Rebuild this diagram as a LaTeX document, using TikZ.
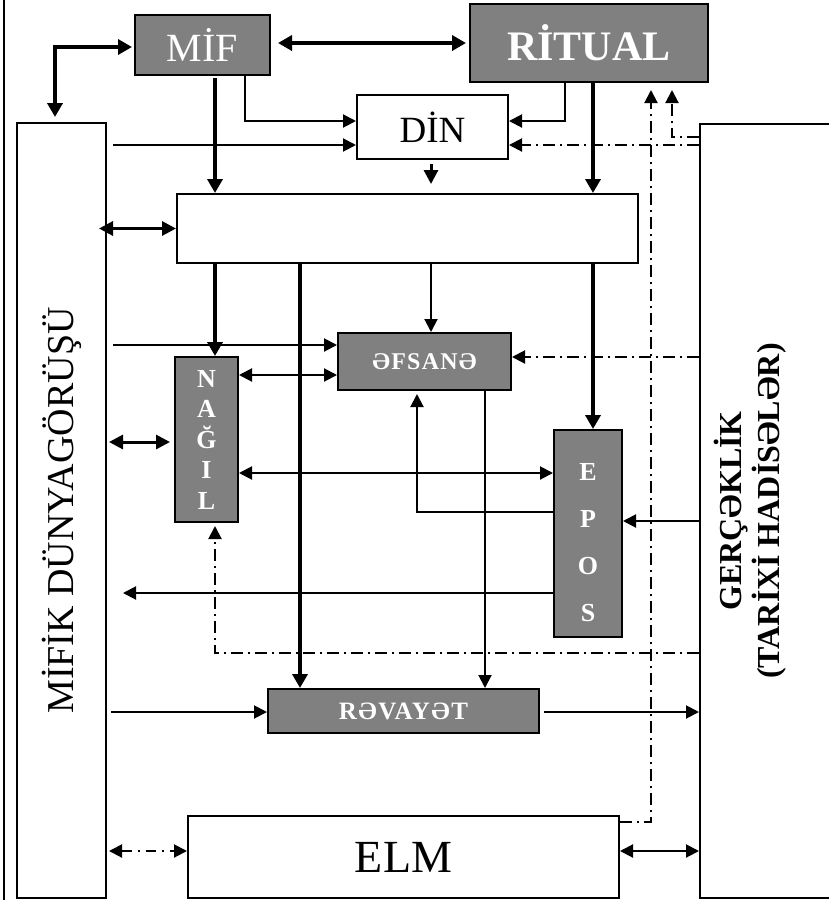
\documentclass[tikz,border=0pt]{standalone}
\usepackage{fontspec}
\usepackage{graphicx}
\setmainfont{Liberation Serif}
\usetikzlibrary{arrows.meta}
\begin{document}
\begin{tikzpicture}[x=1pt, y=-1pt,
        blok/.style={draw, line width=2pt, inner sep=0pt, fill=white},
        boz/.style={blok, fill=gray, text=white},
        fat/.style={line width=4pt, >={Triangle[length=14pt,width=15pt]}},
        orta/.style={line width=3pt, >={Triangle[length=14pt,width=14pt]}},
        ince/.style={line width=2pt, >={Triangle[length=13pt,width=13pt]}},
        xetli/.style={ince, dash pattern=on 12pt off 5pt on 2pt off 5pt}]
        \useasboundingbox (0,0) rectangle (828,900);
        \draw[line width=1.2pt] (4,0) -- (4,900);
        \coordinate (lA) at (55,0);
        \coordinate (lB) at (215,0);
        \coordinate (lC) at (245,0);
        \coordinate (lD) at (565,0);
        \coordinate (lE) at (593,0);
        \coordinate (lF) at (431,0);
        \coordinate (lG) at (300,0);
        \coordinate (lH) at (651,0);
        \coordinate (lI) at (672,0);
        \coordinate (lJ) at (417,0);
        \coordinate (lK) at (485,0);
        \coordinate (r0) at (0,43);
        \coordinate (r1) at (0,121);
        \coordinate (r2) at (0,145);
        \coordinate (r4) at (0,345);
        \coordinate (r5) at (0,375);
        \coordinate (r6) at (0,357);
        \coordinate (r7) at (0,442);
        \coordinate (r8) at (0,473);
        \coordinate (r9) at (0,512);
        \coordinate (r10) at (0,521);
        \coordinate (r11) at (0,593);
        \coordinate (r12) at (0,653);
        \coordinate (r13) at (0,712);
        \coordinate (r14) at (0,851);
        \coordinate (r15) at (0,822);
        \coordinate (r16) at (0,137);
        \node[boz, minimum width=135pt, minimum height=60pt, font=\fontsize{40}{40}\selectfont] (mif) at (202.5,45) {MİF};
        \node[boz, minimum width=238pt, minimum height=78pt, font=\bfseries\fontsize{42}{42}\selectfont] (ritual) at (589,43) {RİTUAL};
        \node[blok, minimum width=151pt, minimum height=64pt, font=\fontsize{37}{37}\selectfont] (din) at (432.5,127) {DİN};
        \node[blok, minimum width=461pt, minimum height=69pt] (big) at (407.5,228.5) {};
        \node[blok, minimum width=89pt, minimum height=775pt, font=\fontsize{38}{38}\selectfont] (mifik) at (61.5,510.5) {\rotatebox{90}{MİFİK DÜNYAGÖRÜŞÜ}};
        \node[blok, minimum width=140pt, minimum height=774pt,
            label={[xshift=-18pt, font=\bfseries\fontsize{32}{35}\selectfont]center:\rotatebox{90}{\begin{tabular}{@{}c@{}}GERÇƏKLİK\\(TARİXİ HADİSƏLƏR)\end{tabular}}}] (real) at (770,511) {};
        \node[boz, minimum width=173pt, minimum height=57pt, font=\bfseries\fontsize{24}{24}\selectfont\addfontfeature{LetterSpace=5}] (efsane) at (424.5,361.5) {ƏFSANƏ};
        \node[boz, minimum width=63pt, minimum height=165pt, align=center, font=\bfseries\fontsize{26}{30.5}\selectfont] (nagil) at (206.5,439.5) {N\\A\\Ğ\\I\\L};
        \node[boz, minimum width=68pt, minimum height=207pt,
            label={[yshift=-9pt, align=center, text=white, font=\bfseries\fontsize{26}{47}\selectfont]center:E\\P\\O\\S}] (epos) at (588,533.5) {};
        \node[boz, minimum width=271pt, minimum height=44pt, font=\bfseries\fontsize{25}{25}\selectfont\addfontfeature{LetterSpace=6}] (revayet) at (403.5,711) {RƏVAYƏT};
        \node[blok, minimum width=431pt, minimum height=82pt, font=\fontsize{46}{46}\selectfont] (elm) at (403.5,857) {ELM};
        \draw[fat,<->,shorten <=2pt,shorten >=5pt] ([yshift=-2pt]mif.west) -| (mifik.north -| lA);
        \draw[fat,<->,shorten <=7pt,shorten >=3pt] (mif.east |- r0) -- (ritual.west |- r0);
        \draw[fat,->,shorten <=2pt] (mif.south -| lB) -- (big.north -| lB);
        \draw[ince,->] (mif.south -| lC) |- (din.west |- r1);
        \draw[ince,->] (ritual.south -| lD) |- (din.east |- r1);
        \draw[fat,->] (ritual.south -| lE) -- (big.north -| lE);
        \draw[ince,->,shorten <=6pt] (mifik.east |- r2) -- (din.west |- r2);
        \draw[xetli,->] (real.west |- r2) -- (din.east |- r2);
        \draw[orta,->,shorten <=4pt,shorten >=9pt] (din.south -| lF) -- (big.north -| lF);
        \draw[xetli,->,shorten >=7pt] (elm.east |- r15) -| (ritual.south -| lH);
        \draw[xetli,->,shorten >=7pt] (real.west |- r16) -| (ritual.south -| lI);
        \draw[orta,<->,shorten >=-8pt] (big.west) -- (big.west -| mifik.east);
        \draw[fat,->] (big.south -| lB) -- (nagil.north -| lB);
        \draw[fat,->] (big.south -| lG) -- (revayet.north -| lG);
        \draw[ince,->] (big.south -| lF) -- (efsane.north -| lF);
        \draw[fat,->] (big.south -| lE) -- (epos.north -| lE);
        \draw[ince,->,shorten <=6pt] (mifik.east |- r4) -- (efsane.west |- r4);
        \draw[ince,<->] (nagil.east |- r5) -- (efsane.west |- r5);
        \draw[xetli,->] (real.west |- r6) -- (efsane.east |- r6);
        \draw[orta,<->,shorten <=2pt,shorten >=4pt] (mifik.east |- r7) -- (nagil.west |- r7);
        \draw[ince,<->] (nagil.east |- r8) -- (epos.west |- r8);
        \draw[ince,->,shorten >=3pt] (epos.west |- r9) -| (efsane.south -| lJ);
        \draw[ince,->] (efsane.south -| lK) -- (revayet.north -| lK);
        \draw[ince,->] (real.west |- r10) -- (epos.east |- r10);
        \draw[ince,->,shorten >=16pt] (epos.west |- r11) -- (mifik.east |- r11);
        \draw[xetli,->,shorten >=3pt] (real.west |- r12) -| (nagil.south -| lB);
        \draw[ince,->,shorten <=4pt] (mifik.east |- r13) -- (revayet.west |- r13);
        \draw[ince,->,shorten <=4pt] (revayet.east |- r13) -- (real.west |- r13);
        \draw[ince,<->,dash pattern=on 10pt off 6pt on 2pt off 6pt,shorten <=2pt] (mifik.east |- r14) -- (elm.west |- r14);
        \draw[ince,<->] (elm.east |- r14) -- (real.west |- r14);
    \end{tikzpicture}
\end{document}
